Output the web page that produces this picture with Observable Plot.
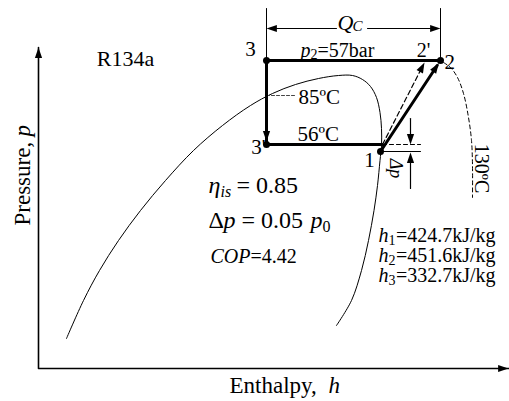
<!DOCTYPE html>
<html><head><meta charset="utf-8">
<script src="https://cdn.jsdelivr.net/npm/d3@7"></script>
<script src="https://cdn.jsdelivr.net/npm/@observablehq/plot@0.6"></script>
<style>body{margin:0;background:#fff}#chart svg{display:block}</style>
</head><body><div id="chart"></div>
<script>
// Schematic p-h diagram of an R134a cycle (arbitrary enthalpy / pressure units)
const domeH = [28,45,61,80,102,127,155,184,212,234,257,280,300,314,324,332,338,341.5,343,343,341.5,339,335.5,330,323,313,298];
const domeP = [30,68,98,128,158,188,218,243,263,275,284,290,293,293,289,282,271,256,240,223,208,183,158,128,98,68,43];

const isoH = [405,412,419,425,430,433,434,434];
const isoP = [306,301,291,275,251,228,203,171];

const stateName = ["1","1a","2","2'","3","3'"];
const stateH = [342,344,402,386,228,228];
const stateP = [217,224,308,306,308,224];

const results = ["424.7","451.6","332.7"];
const params = {eta:"0.85", dp:"0.05", cop:"4.42", p2:"57", tCond:"85", tEvap:"56", tDis:"130"};

const S = Object.fromEntries(stateName.map((n,i)=>[n,{h:stateH[i],p:stateP[i]}]));
const dome = domeH.map((h,i)=>({h,p:domeP[i]}));
const iso = isoH.map((h,i)=>({h,p:isoP[i]}));

const FONT = "Liberation Serif, Times New Roman, serif";
const arrowHead = {draw(ctx,size){const r=Math.sqrt(size/Math.PI);const L=r*2.6,W=r*0.9;ctx.moveTo(0,0);ctx.lineTo(W,L);ctx.lineTo(-W,L);ctx.closePath();}};
const ang = (a,b)=>Math.atan2(b.h-a.h,b.p-a.p)*180/Math.PI;
function back(a,b,d){const L=Math.hypot(b.h-a.h,b.p-a.p);return {h:b.h-(b.h-a.h)*d/L,p:b.p-(b.p-a.p)*d/L};}

const hMax = 470, pMax = 321;
const qcP = 340, qcTop = 360;

const arrows = [
  {h:0,p:pMax,a:0},
  {h:hMax,p:0,a:90},
  {h:S["3"].h,p:qcP,a:270},
  {h:S["2"].h,p:qcP,a:90},
  {h:S["3'"].h,p:S["3'"].p+3,a:180},
  {...back(S["1"],S["2"],3),a:ang(S["1"],S["2"])},
  {...S["2'"],a:ang(S["1a"],S["2'"])},
  {h:372,p:S["1a"].p,a:180},
  {h:372,p:S["1"].p-1,a:0}
];

function txt(h,p,t,o={}){return Plot.text([{h,p}],{x:"h",y:"p",text:()=>t,fontFamily:FONT,fill:"black",textAnchor:"start",fontSize:20,...o});}

const marks = [
  // axes
  Plot.line([{h:0,p:pMax},{h:0,p:0},{h:hMax,p:0}],{x:"h",y:"p",stroke:"black",strokeWidth:1.6}),
  // saturation dome
  Plot.line(dome,{x:"h",y:"p",curve:"catmull-rom",stroke:"black",strokeWidth:1}),
  // 130 C isotherm
  Plot.line(iso,{x:"h",y:"p",curve:"catmull-rom",stroke:"black",strokeWidth:1,strokeDasharray:"4,3"}),
  // condensing temperature marker
  Plot.line([{h:228,p:273},{h:256,p:273}],{x:"h",y:"p",stroke:"#444",strokeWidth:1,strokeDasharray:"3,2"}),
  // cycle
  Plot.line([S["2"],S["3"],S["3'"],S["1a"]],{x:"h",y:"p",stroke:"black",strokeWidth:3,strokeLinejoin:"miter"}),
  Plot.line([S["1"],back(S["1"],S["2"],6)],{x:"h",y:"p",stroke:"black",strokeWidth:3}),
  Plot.line([S["1a"],back(S["1a"],S["2'"],6)],{x:"h",y:"p",stroke:"black",strokeWidth:1.2,strokeDasharray:"5,3"}),
  // pressure drop
  Plot.line([S["1a"],{h:382,p:S["1a"].p}],{x:"h",y:"p",stroke:"black",strokeWidth:1,strokeDasharray:"4,3"}),
  Plot.line([S["1"],{h:382,p:S["1"].p}],{x:"h",y:"p",stroke:"black",strokeWidth:1}),
  Plot.line([{h:372,p:250},{h:372,p:S["1a"].p+6}],{x:"h",y:"p",stroke:"black",strokeWidth:1.2}),
  Plot.line([{h:372,p:180},{h:372,p:S["1"].p-6}],{x:"h",y:"p",stroke:"black",strokeWidth:1.2}),
  // Qc dimension
  Plot.line([{h:S["3"].h,p:S["3"].p},{h:S["3"].h,p:qcTop}],{x:"h",y:"p",stroke:"black",strokeWidth:1}),
  Plot.line([{h:S["2"].h,p:S["2"].p},{h:S["2"].h,p:qcTop}],{x:"h",y:"p",stroke:"black",strokeWidth:1}),
  Plot.line([{h:S["3"].h+4,p:qcP},{h:298,p:qcP}],{x:"h",y:"p",stroke:"black",strokeWidth:1}),
  Plot.line([{h:329,p:qcP},{h:S["2"].h-4,p:qcP}],{x:"h",y:"p",stroke:"black",strokeWidth:1}),
  // arrowheads
  Plot.dot(arrows,{x:"h",y:"p",rotate:"a",symbol:arrowHead,r:4,fill:"black",stroke:"none"}),
  // state points
  Plot.dot([S["1"],S["2"],S["3"],S["3'"]],{x:"h",y:"p",r:3.5,fill:"black",stroke:"none"}),
  // labels
  txt(87,310,"R134a",{textAnchor:"middle",fontSize:22}),
  txt(S["3"].h-16,S["3"].p+11,"3",{textAnchor:"middle",fontSize:21}),
  txt(S["3'"].h-1,S["3'"].p-3,"3'",{textAnchor:"end",fontSize:21}),
  txt(S["1"].h-11,S["1"].p-9,"1",{textAnchor:"middle",fontSize:21}),
  txt(S["2"].h+4,S["2"].p-2,"2",{fontSize:21}),
  txt(S["2'"].h-1,S["2'"].p+12,"2'",{textAnchor:"middle",fontSize:20}),
  txt(262,318,"p",{fontStyle:"italic"}),
  txt(262,318,"2",{fontSize:14,dx:10,dy:4}),
  txt(262,318,"="+params.p2+"bar",{dx:17}),
  txt(260,271,params.tCond+"ºC",{fontSize:21}),
  txt(259,234,params.tEvap+"ºC",{fontSize:21}),
  txt(299,346,"Q",{fontStyle:"italic",fontSize:22}),
  txt(299,346,"C",{fontStyle:"italic",fontSize:15,dx:15,dy:4}),
  txt(357,200,"Δp",{fontStyle:"italic",fontSize:18,textAnchor:"middle",rotate:90}),
  txt(443,200,params.tDis+"ºC",{fontSize:20,textAnchor:"middle",rotate:90}),
  // parameters block
  txt(170,183,"η",{fontStyle:"italic",fontSize:24}),
  txt(170,183,"is",{fontStyle:"italic",fontSize:16,dx:12,dy:6}),
  txt(170,183,"= "+params.eta,{fontSize:24,dx:28}),
  txt(170,148,"Δ",{fontSize:24}),
  txt(170,148,"p",{fontStyle:"italic",fontSize:24,dx:15}),
  txt(170,148,"= "+params.dp,{fontSize:24,dx:33}),
  txt(170,148,"p",{fontStyle:"italic",fontSize:24,dx:102}),
  txt(170,148,"0",{fontSize:16,dx:114,dy:6}),
  txt(172,112,"COP",{fontStyle:"italic",fontSize:20}),
  txt(172,112,"="+params.cop,{fontSize:20,dx:40}),
  // enthalpy results
  ...results.flatMap((v,i)=>{const p=133-i*20;return [
    txt(340,p,"h",{fontStyle:"italic",fontSize:20}),
    txt(340,p,String(i+1),{fontSize:14,dx:10,dy:5}),
    txt(340,p,"="+v+"kJ/kg",{fontSize:20,dx:17.5})];}),
  // axis titles
  txt(-16,143,"Pressure, ",{fontSize:23,rotate:-90}),
  txt(-16,143,"p",{fontSize:23,fontStyle:"italic",rotate:-90,dy:-89}),
  txt(191,-17,"Enthalpy, ",{fontSize:23}),
  txt(191,-17,"h",{fontSize:23,fontStyle:"italic",dx:99})
];

const chart = Plot.plot({
  width:509, height:401,
  marginLeft:38, marginRight:1, marginTop:47, marginBottom:33,
  x:{domain:[0,hMax],axis:null},
  y:{domain:[0,pMax],axis:null},
  style:{background:"white",overflow:"visible",fontFamily:FONT},
  marks
});
document.getElementById("chart").append(chart);
</script>
</body></html>
